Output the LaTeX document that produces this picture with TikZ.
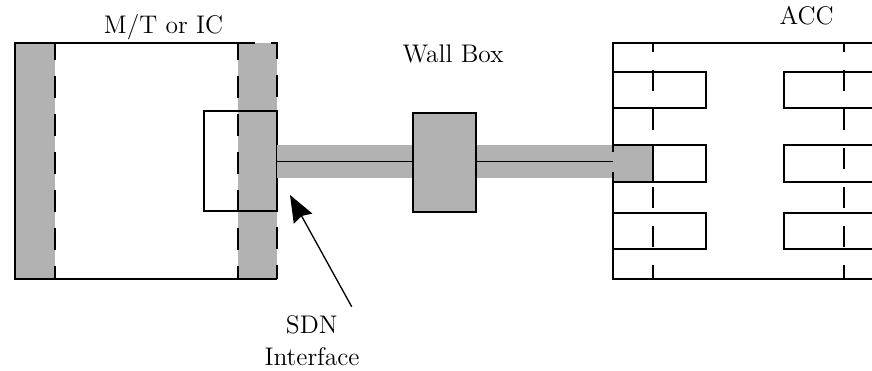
\documentclass[tikz,border=0pt]{standalone}
\usetikzlibrary{arrows.meta}
\begin{document}
\begin{tikzpicture}[x=0.02cm,y=-0.02cm,
  outl/.style={line width=1.1pt},
  thinl/.style={line width=0.75pt},
  boxdash/.style={line width=1.1pt, dash pattern=on 0.44cm off 0.32cm, dash phase=0.1cm},
  accdash/.style={line width=1.1pt, dash pattern=on 0.42cm off 0.36cm, dash phase=0.234cm},
  grayfill/.style={fill=black!30},
  lbl/.style={font=\fontsize{14.5}{18}\selectfont, anchor=base, inner sep=0pt, outer sep=0pt}]
\useasboundingbox (0,0) rectangle (872,371);

% ---------- M/T or IC box ----------
\fill[grayfill] (15,42.7) rectangle (55,279);
\fill[grayfill] (238,42.7) rectangle (277,279);
\draw[outl] (238,42.7) -- (15,42.7) -- (15,279) -- (277,279);
\draw[boxdash] (55,42.7) -- (55,279);
\draw[boxdash] (238,42.7) -- (238,279);
\draw[boxdash] (238,42.7) -- (277,42.7) -- (277,279);
\draw[outl] (203.7,110.7) rectangle (277,210.7);
\coordinate (ifR) at (277,161.5);

% ---------- cable band ----------
\fill[grayfill] (277,145) rectangle (613,178);
\fill[grayfill] (613,145) rectangle (653,181.7);
\coordinate (accL) at (613,161.5);

% ---------- Wall box ----------
\node[draw, outl, grayfill, minimum width=1.254cm, minimum height=1.98cm, inner sep=0pt] (wb) at (444.7,162.2) {};
\draw[thinl] (ifR) -- (wb.west |- ifR);
\draw[thinl] (wb.east |- accL) -- (accL);

% ---------- ACC ----------
\draw[outl] (613,152) -- (613,42.7) -- (872,42.7);
\draw[outl] (613,172) -- (613,279) -- (872,279);
\foreach \ya/\yb in {71.7/108.3, 145/181.7, 213.3/249.3} {
  \draw[outl] (613,\ya) -- (706,\ya) -- (706,\yb) -- (613,\yb);
  \draw[outl] (872,\ya) -- (784,\ya) -- (784,\yb) -- (872,\yb);
}
\draw[accdash] (653,42.7) -- (653,279);
\draw[accdash] (844,42.7) -- (844,279);
\draw[outl] (653,145) -- (653,181.7);

% ---------- labels ----------
\node[lbl] (mtl) at (163.5,33.3) {M/T or IC};
\node[lbl] (wbl) at (453,62.7) {Wall Box};
\node[lbl] (accl) at (806.7,25) {ACC};
\node[lbl] (sdn) at (311.7,333) {SDN};
\node[lbl] (intf) at (312,365) {Interface};

% ---------- arrow ----------
\coordinate (arrS) at (351.7,306.7);
\coordinate (arrT) at (290,195);
\draw[thinl, -{Stealth[length=0.54cm, width=0.42cm, inset=0.06cm]}] (arrS) -- (arrT);
\end{tikzpicture}
\end{document}
